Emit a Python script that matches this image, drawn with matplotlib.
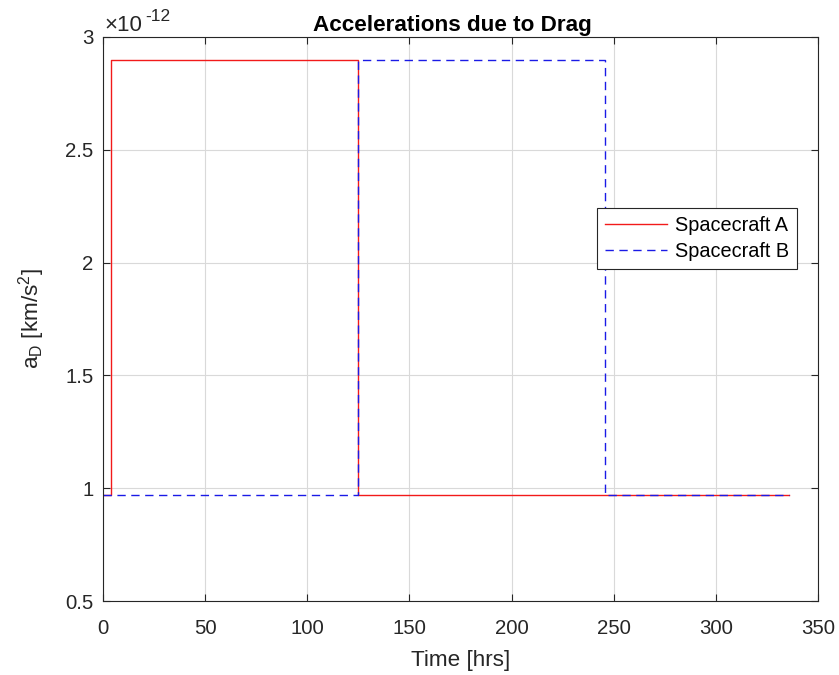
import matplotlib
matplotlib.use("Agg")
import matplotlib.pyplot as plt
import numpy as np

plt.rcParams['font.family'] = ['Liberation Sans', 'DejaVu Sans']
plt.rcParams['mathtext.fontset'] = 'custom'
plt.rcParams['mathtext.rm'] = 'Liberation Sans'
plt.rcParams['mathtext.it'] = 'Liberation Sans'

# Data (step breakpoints, hrs) and drag acceleration levels (km/s^2)
t_A = [0.0, 3.9, 124.8, 335.8]
aD_A = [0.968e-12, 2.898e-12, 0.968e-12, 0.968e-12]
t_B = [0.0, 124.8, 245.8, 335.8]
aD_B = [0.968e-12, 2.898e-12, 0.968e-12, 0.968e-12]

xticks = [0, 50, 100, 150, 200, 250, 300, 350]
yticks = [0.5, 1, 1.5, 2, 2.5, 3]

fig = plt.figure(figsize=(8.39, 6.75), dpi=100)
ax = fig.add_axes([0.1228, 0.1096, 0.8522, 0.8356])

ax.plot(t_A, aD_A, color=(0.95, 0.1, 0.1), lw=1.0, drawstyle='steps-post', label='Spacecraft A')
ax.plot(t_B, aD_B, color=(0.1, 0.1, 0.9), lw=1.0, ls=(0, (6, 4)), drawstyle='steps-post', label='Spacecraft B')

ax.set_xlim(0, 350)
ax.set_ylim(0.5e-12, 3e-12)
ax.set_xticks(xticks)
ax.set_yticks([v * 1e-12 for v in yticks])
ax.set_yticklabels([f"{v:g}" for v in yticks])
tc = (0.15, 0.15, 0.15)
ax.tick_params(direction='in', length=5, labelsize=14.7, colors=tc, top=True, right=True,
               labeltop=False, labelright=False)
ax.tick_params(axis='x', pad=13)
ax.tick_params(axis='y', pad=7)
ax.grid(True, color=(0.85, 0.85, 0.85), lw=0.8)
ax.set_axisbelow(True)
for s in ax.spines.values():
    s.set_color(tc)
    s.set_linewidth(0.8)

# exponent label (MATLAB style)
ax.text(0.002, 1.0106, '×10', transform=ax.transAxes, fontsize=16, color=tc, ha='left', va='baseline')
ax.text(0.0585, 1.0275, '-12', transform=ax.transAxes, fontsize=12.5, color=tc, ha='left', va='baseline')

ax.set_title('Accelerations due to Drag', fontsize=16.2, fontweight='bold', color='black', pad=4, x=0.489)
ax.set_xlabel('Time [hrs]', fontsize=16.2, color=tc)
ax.xaxis.set_label_coords(0.5, -0.087)
ax.set_ylabel(r'a$_\mathregular{D}$ [km/s$^\mathregular{2}$]', fontsize=16.2, color=tc)
ax.yaxis.set_label_coords(-0.078, 0.5)

leg = ax.legend(loc='upper right', bbox_to_anchor=(0.970, 0.697), fontsize=14.3, fancybox=False,
                framealpha=1, edgecolor=tc, borderpad=0.4, handlelength=3.1, handletextpad=0.4,
                labelspacing=0.34, borderaxespad=0)
leg.get_frame().set_linewidth(0.8)

fig.savefig('out.png', dpi=100)
